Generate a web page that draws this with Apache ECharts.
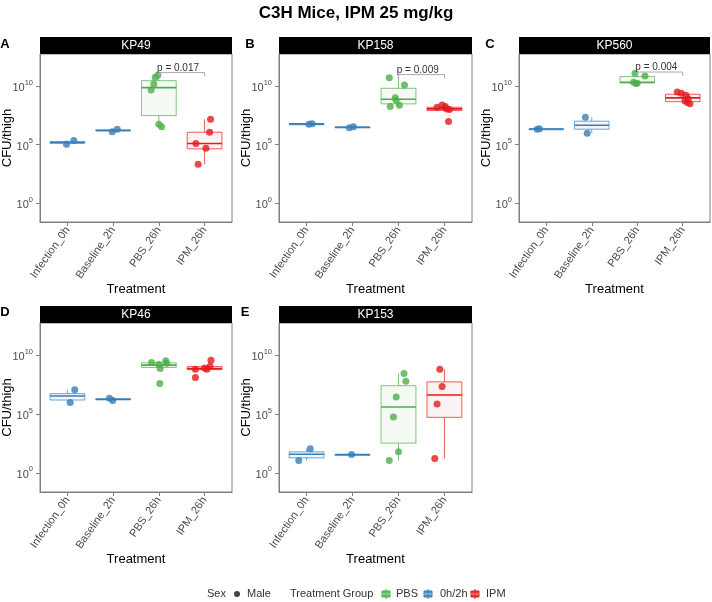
<!DOCTYPE html>
<html>
<head>
<meta charset="utf-8">
<script src="https://cdn.jsdelivr.net/npm/echarts@6/dist/echarts.min.js"></script>
<style>
html, body { margin: 0; padding: 0; background: #fff; }
#chart { width: 712px; height: 602px; }
</style>
</head>
<body>
<div id="chart"></div>
<script>
// x categories and panels
const treatments = ['Infection_0h', 'Baseline_2h', 'PBS_26h', 'IPM_26h']
const panelNames = ['KP49', 'KP158', 'KP560', 'KP46', 'KP153']
const panelLetters = ['A', 'B', 'C', 'D', 'E']
const yTicks = [0, 5, 10] // log10 CFU/thigh

// boxes per treatment: [lower whisker, q1, median, q3, upper whisker], log10 CFU/thigh
const kp49Box = [[5.03, 5.1, 5.17, 5.26, 5.34], [6.08, 6.17, 6.2, 6.25, 6.31], [6.51, 7.47, 9.86, 10.45, 10.94], [3.32, 4.63, 5.09, 6.05, 7.16]]
const kp158Box = [[6.74, 6.75, 6.76, 6.77, 6.78], [6.43, 6.45, 6.47, 6.5, 6.52], [8.24, 8.47, 8.86, 9.8, 10.71], [7.9, 7.9, 8.04, 8.18, 8.38]]
const kp560Box = [[6.31, 6.32, 6.33, 6.34, 6.35], [5.97, 6.31, 6.65, 6.99, 7.33], [10.2, 10.28, 10.31, 10.8, 11.08], [8.47, 8.66, 8.98, 9.29, 9.49]]
const kp46Box = [[5.99, 6.19, 6.53, 6.73, 7.07], [6.14, 6.2, 6.25, 6.3, 6.35], [8.86, 8.95, 9.15, 9.35, 9.52], [8.75, 8.77, 8.86, 9.03, 9.06]]
const kp153Box = [[1.05, 1.28, 1.59, 1.79, 2.05], [1.56, 1.56, 1.56, 1.56, 1.56], [1.05, 2.53, 5.6, 7.41, 8.44], [1.22, 4.72, 6.62, 7.73, 8.81]]

// mice: [treatment index + jitter, log10 CFU/thigh]
const kp49Points = [
  [0.98, 5.03], [1.14, 5.34],
  [1.98, 6.08], [2.09, 6.31],
  [2.98, 10.94], [2.92, 10.74], [2.89, 10.17], [2.83, 9.66], [3.0, 6.73], [3.06, 6.51],
  [4.13, 7.16], [4.11, 6.05], [3.81, 5.08], [4.03, 4.69], [3.86, 3.32]
]
const kp158Points = [
  [1.05, 6.74], [1.12, 6.78],
  [1.93, 6.43], [2.02, 6.52],
  [2.8, 10.71], [3.13, 10.09], [2.93, 9.0], [2.95, 8.75], [2.82, 8.24], [3.02, 8.35],
  [3.84, 8.18], [3.95, 8.38], [4.02, 8.24], [4.11, 7.98], [4.05, 8.04], [4.09, 6.96]
]
const kp560Points = [
  [0.8, 6.31], [0.85, 6.34],
  [1.86, 7.33], [1.9, 5.97],
  [2.95, 11.08], [3.17, 10.85], [2.92, 10.31], [2.97, 10.2], [3.0, 10.23],
  [3.88, 9.49], [3.97, 9.38], [4.07, 9.2], [4.05, 8.75], [4.1, 8.58], [4.16, 8.47], [4.12, 8.9]
]
const kp46Points = [
  [1.06, 5.99], [1.16, 7.07],
  [1.92, 6.35], [1.99, 6.14],
  [2.84, 9.38], [3.0, 9.2], [3.03, 8.86], [3.15, 9.52], [3.17, 9.32], [3.02, 7.59],
  [4.14, 9.57], [4.12, 9.06], [4.05, 8.81], [3.8, 8.81], [3.8, 8.1], [4.0, 8.9]
]
const kp153Points = [
  [0.83, 1.05], [1.08, 2.05],
  [1.98, 1.56],
  [3.12, 8.44], [3.16, 7.78], [2.95, 6.45], [2.89, 4.74], [3.0, 1.79], [2.8, 1.05],
  [3.9, 8.81], [3.95, 7.33], [3.84, 5.85], [3.79, 1.22]
]

// PBS vs IPM comparisons (panels A-C)
const pLabels = ['p = 0.017', 'p = 0.009', 'p = 0.004']
const bracketHeights = [11.14, 10.97, 11.19]

const allBoxes = [kp49Box, kp158Box, kp560Box, kp46Box, kp153Box]
const allPoints = [kp49Points, kp158Points, kp560Points, kp46Points, kp153Points]

const chart = echarts.init(document.getElementById('chart'))

const FONT = 'Liberation Sans, Arial, sans-serif'
const AXIS_GREY = '#7f7f7f'
const boxWidth = 0.76
const yMin = -1.62
const yMax = 12.73
const colors = { blue: '#377EB8', green: '#4DAF4A', red: '#E41A1C' }

function groupColor(g) {
  if (g === 3) return colors.green
  if (g === 4) return colors.red
  return colors.blue
}

// left, top, width, height of each panel
const rects = [
  [40, 54, 192, 168],
  [279, 54, 193, 168],
  [519, 54, 191, 168],
  [40, 323, 192, 169],
  [279, 323, 193, 169]
]
const letterPos = [[5, 44], [250, 44], [490, 44], [5, 312], [245, 312]]

function renderBox(params, api) {
  const g = api.value(0)
  const color = groupColor(g)
  const half = boxWidth / 2
  const x0 = api.coord([g - half, 0])[0]
  const x1 = api.coord([g + half, 0])[0]
  const cx = api.coord([g, 0])[0]
  const yLo = api.coord([g, api.value(1)])[1]
  const yQ1 = api.coord([g, api.value(2)])[1]
  const yMed = api.coord([g, api.value(3)])[1]
  const yQ3 = api.coord([g, api.value(4)])[1]
  const yHi = api.coord([g, api.value(5)])[1]
  const faint = { stroke: echarts.color.modifyAlpha(color, 0.7), lineWidth: 1 }
  return {
    type: 'group',
    children: [
      { type: 'line', shape: { x1: cx, y1: yQ3, x2: cx, y2: yHi }, style: faint },
      { type: 'line', shape: { x1: cx, y1: yQ1, x2: cx, y2: yLo }, style: faint },
      {
        type: 'rect',
        shape: { x: x0, y: yQ3, width: x1 - x0, height: Math.max(yQ1 - yQ3, 1) },
        style: { fill: echarts.color.modifyAlpha(color, 0.06), stroke: echarts.color.modifyAlpha(color, 0.7), lineWidth: 1 }
      },
      { type: 'line', shape: { x1: x0, y1: yMed, x2: x1, y2: yMed }, style: { stroke: color, lineWidth: 1.6 } }
    ]
  }
}

function makeBracketRenderer(label) {
  return function (params, api) {
    const y = api.value(2)
    const tip = 0.32
    const a = api.coord([api.value(0), y])
    const b = api.coord([api.value(1), y])
    const aTip = api.coord([api.value(0), y - tip])
    const bTip = api.coord([api.value(1), y - tip])
    return {
      type: 'group',
      children: [
        { type: 'polyline', shape: { points: [aTip, a, b, bTip] }, style: { stroke: '#aaaaaa', lineWidth: 1, fill: null } },
        {
          type: 'text',
          x: a[0] + (b[0] - a[0]) * 0.42,
          y: a[1] + 0.5,
          style: { text: label, fill: '#333', font: '10px ' + FONT, align: 'center', verticalAlign: 'bottom' }
        }
      ]
    }
  }
}

const grids = []
const xAxes = []
const yAxes = []
const series = []
const graphics = []

rects.forEach((r, i) => {
  grids.push({
    left: r[0], top: r[1], width: r[2], height: r[3],
    outerBoundsMode: 'none',
    show: true, borderColor: AXIS_GREY, borderWidth: 1, backgroundColor: 'transparent'
  })
  xAxes.push({
    type: 'value', gridIndex: i, min: 0.4, max: 4.6,
    splitLine: { show: false },
    axisLine: { show: true, onZero: false, lineStyle: { color: AXIS_GREY } },
    axisTick: { show: true, customValues: [1, 2, 3, 4], length: 4, lineStyle: { color: AXIS_GREY } },
    axisLabel: {
      customValues: [1, 2, 3, 4],
      formatter: (v) => treatments[Math.round(v) - 1],
      rotate: 55, fontSize: 11, color: '#4d4d4d', margin: 6, fontFamily: FONT
    },
    name: 'Treatment', nameLocation: 'middle', nameGap: 61, nameMoveOverlap: false,
    nameTextStyle: { fontSize: 13, color: '#000', fontFamily: FONT }
  })
  yAxes.push({
    type: 'value', gridIndex: i, min: yMin, max: yMax,
    splitLine: { show: false },
    axisLine: { show: true, onZero: false, lineStyle: { color: AXIS_GREY } },
    axisTick: { show: true, customValues: yTicks, length: 4, lineStyle: { color: AXIS_GREY } },
    axisLabel: {
      customValues: yTicks,
      formatter: (v) => '{b|10}{s|' + v + '}',
      margin: 7,
      rich: {
        b: { fontSize: 11, color: '#4d4d4d', fontFamily: FONT, lineHeight: 15, verticalAlign: 'bottom' },
        s: { fontSize: 7.5, color: '#4d4d4d', fontFamily: FONT, lineHeight: 15, verticalAlign: 'top' }
      }
    },
    name: 'CFU/thigh', nameLocation: 'middle', nameGap: 26, nameMoveOverlap: false,
    nameTextStyle: { fontSize: 13, color: '#000', fontFamily: FONT }
  })

  series.push({
    type: 'custom', xAxisIndex: i, yAxisIndex: i, z: 2,
    renderItem: renderBox,
    encode: { x: 0, y: [1, 2, 3, 4, 5] },
    data: allBoxes[i].map((b, k) => [k + 1].concat(b))
  })
  series.push({
    type: 'scatter', xAxisIndex: i, yAxisIndex: i, z: 3,
    symbolSize: 7,
    itemStyle: { opacity: 0.8 },
    data: allPoints[i].map((p) => ({ value: p, itemStyle: { color: groupColor(Math.round(p[0])) } }))
  })
  if (i < pLabels.length) {
    series.push({
      type: 'custom', xAxisIndex: i, yAxisIndex: i, z: 4,
      renderItem: makeBracketRenderer(pLabels[i]),
      encode: { x: [0, 1], y: 2 },
      data: [[3, 4, bracketHeights[i]]]
    })
  }

  // facet strip
  graphics.push({ type: 'rect', shape: { x: r[0], y: r[1] - 17, width: r[2], height: 17 }, style: { fill: '#000' } })
  graphics.push({
    type: 'text', x: r[0] + r[2] / 2, y: r[1] - 8.5,
    style: { text: panelNames[i], fill: '#fff', font: '12px ' + FONT, align: 'center', verticalAlign: 'middle' }
  })
  graphics.push({
    type: 'text', x: letterPos[i][0], y: letterPos[i][1],
    style: { text: panelLetters[i], fill: '#000', font: 'bold 13px ' + FONT, align: 'center', verticalAlign: 'middle' }
  })
})

// title
graphics.push({
  type: 'text', x: 356, y: 13,
  style: { text: 'C3H Mice, IPM 25 mg/kg', fill: '#000', font: 'bold 17px ' + FONT, align: 'center', verticalAlign: 'middle' }
})

// legend
const legendY = 594
function legendText(x, text) {
  return { type: 'text', x: x, y: legendY, style: { text: text, fill: '#333', font: '11px ' + FONT, align: 'left', verticalAlign: 'middle' } }
}
function legendKey(cx, color) {
  return {
    type: 'group', children: [
      { type: 'line', shape: { x1: cx, y1: legendY - 5, x2: cx, y2: legendY + 5 }, style: { stroke: color, lineWidth: 1 } },
      { type: 'rect', shape: { x: cx - 4, y: legendY - 3, width: 8, height: 6 }, style: { fill: echarts.color.modifyAlpha(color, 0.85), stroke: color, lineWidth: 1 } },
      { type: 'line', shape: { x1: cx - 4, y1: legendY, x2: cx + 4, y2: legendY }, style: { stroke: '#fff', lineWidth: 0.8, opacity: 0.6 } }
    ]
  }
}
graphics.push(legendText(207, 'Sex'))
graphics.push({ type: 'circle', shape: { cx: 237, cy: legendY, r: 3 }, style: { fill: '#444' } })
graphics.push(legendText(247, 'Male'))
graphics.push(legendText(290, 'Treatment Group'))
graphics.push(legendKey(386, colors.green))
graphics.push(legendText(396, 'PBS'))
graphics.push(legendKey(428, colors.blue))
graphics.push(legendText(440, '0h/2h'))
graphics.push(legendKey(475, colors.red))
graphics.push(legendText(486, 'IPM'))

chart.setOption({
  animation: false,
  backgroundColor: '#fff',
  textStyle: { fontFamily: FONT },
  grid: grids,
  xAxis: xAxes,
  yAxis: yAxes,
  series: series,
  graphic: graphics
})
</script>
</body>
</html>
